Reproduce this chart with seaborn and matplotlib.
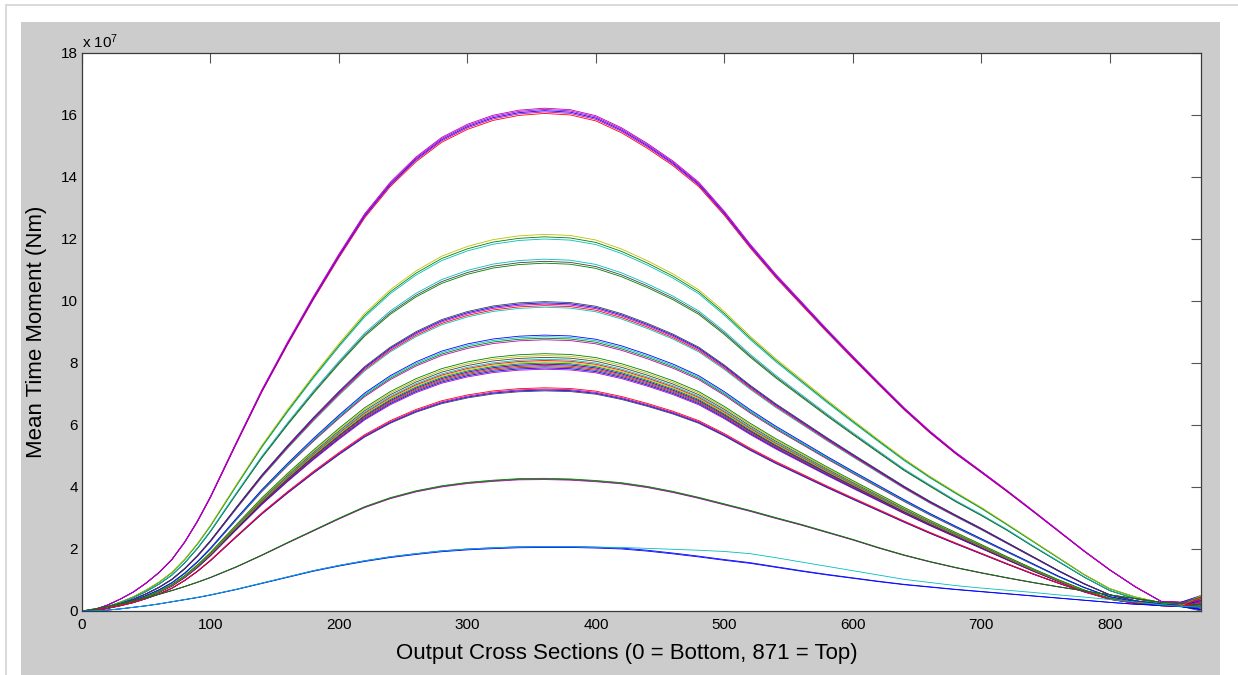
import matplotlib
matplotlib.use("Agg")
import matplotlib.pyplot as plt
import numpy as np
import pandas as pd
import seaborn as sns
from matplotlib.patches import Rectangle
from matplotlib.lines import Line2D

# Cross-section index along the tower (0 = bottom, 871 = top)
section_head = [0, 10, 20, 30, 40, 50, 60, 70, 80, 90, 100, 120, 140, 160, 180, 200, 220,
                240, 260, 280, 300, 320, 340, 360, 380, 400, 420, 440, 460, 480, 500, 520,
                540, 560, 580, 600, 620]
section_tail = [640, 660, 680, 700, 720, 740, 760, 780, 800, 820, 840, 855, 871]

# Common normalised moment shape of the large load-case families (sections 0..620)
shape = [0.0, 0.003, 0.012, 0.024, 0.038, 0.056, 0.077, 0.103, 0.138, 0.18, 0.228, 0.335,
         0.44, 0.535, 0.625, 0.71, 0.79, 0.853, 0.903, 0.942, 0.968, 0.986, 0.996, 1.0,
         0.997, 0.985, 0.961, 0.93, 0.895, 0.853, 0.795, 0.73, 0.67, 0.615, 0.56, 0.507,
         0.455]

# Family peak moments (1e7 Nm)
peak_a, peak_b, peak_c, peak_d, peak_e, peak_f, peak_g = 16.18, 12.1, 11.3, 9.92, 8.85, 8.05, 7.15

# Family moments near the top of the tower, sections 640..855 (1e7 Nm)
tail_a = [6.54, 5.79, 5.11, 4.5, 3.88, 3.24, 2.59, 1.94, 1.33, 0.78, 0.31, 0.28]
tail_b = [4.89, 4.33, 3.82, 3.33, 2.8, 2.26, 1.72, 1.18, 0.72, 0.45, 0.27, 0.2]
tail_c = [4.56, 4.05, 3.55, 3.1, 2.62, 2.1, 1.6, 1.1, 0.66, 0.4, 0.24, 0.18]
tail_d = [4.0, 3.52, 3.08, 2.65, 2.2, 1.75, 1.3, 0.88, 0.52, 0.33, 0.22, 0.18]
tail_e = [3.57, 3.13, 2.72, 2.32, 1.92, 1.52, 1.12, 0.76, 0.46, 0.3, 0.2, 0.16]
tail_f = [3.24, 2.84, 2.46, 2.08, 1.7, 1.33, 0.98, 0.66, 0.4, 0.27, 0.19, 0.15]
tail_g = [2.88, 2.52, 2.18, 1.85, 1.52, 1.2, 0.9, 0.62, 0.38, 0.25, 0.17, 0.14]

# Light load-case families, full profiles (1e7 Nm)
head_h = [0.0, 0.07, 0.15, 0.24, 0.33, 0.43, 0.54, 0.66, 0.79, 0.93, 1.08, 1.42, 1.8, 2.2,
          2.59, 2.98, 3.35, 3.64, 3.86, 4.02, 4.13, 4.2, 4.25, 4.26, 4.24, 4.19, 4.12, 4.0,
          3.84, 3.65, 3.44, 3.23, 3.0, 2.78, 2.54, 2.3, 2.04]
tail_h = [1.8, 1.59, 1.4, 1.23, 1.07, 0.92, 0.78, 0.65, 0.52, 0.4, 0.28, 0.24]
head_i = [0.0, 0.01, 0.03, 0.07, 0.12, 0.17, 0.23, 0.3, 0.37, 0.44, 0.52, 0.7, 0.9, 1.1,
          1.3, 1.47, 1.62, 1.75, 1.85, 1.94, 2.0, 2.04, 2.07, 2.08, 2.08, 2.06, 2.03, 1.96,
          1.87, 1.77, 1.66, 1.56, 1.43, 1.3, 1.18, 1.07, 0.96]
tail_i = [0.86, 0.78, 0.7, 0.63, 0.56, 0.49, 0.42, 0.35, 0.28, 0.22, 0.18, 0.15]
head_j = [0.0, 0.01, 0.03, 0.07, 0.12, 0.17, 0.23, 0.3, 0.37, 0.44, 0.52, 0.7, 0.9, 1.1,
          1.3, 1.47, 1.62, 1.75, 1.85, 1.94, 2.0, 2.04, 2.07, 2.08, 2.08, 2.06, 2.05, 2.02,
          1.99, 1.96, 1.92, 1.85, 1.72, 1.58, 1.44, 1.3, 1.16]
tail_j = [1.02, 0.92, 0.82, 0.74, 0.67, 0.6, 0.52, 0.45, 0.37, 0.29, 0.2, 0.15]

# Peak moment of every individual run in each family (1e7 Nm)
peaks_a = [16.05, 16.10, 16.14, 16.18, 16.22]
peaks_b = [12.00, 12.07, 12.15]
peaks_c = [11.22, 11.28, 11.35]
peaks_d = [9.80, 9.85, 9.90, 9.94, 9.98]
peaks_e = [8.75, 8.80, 8.85, 8.90]
peaks_f = [7.80, 7.84, 7.88, 7.92, 7.96, 8.00, 8.04, 8.08, 8.12, 8.18, 8.24, 8.30]
peaks_g = [7.10, 7.13, 7.16, 7.20]
peaks_h = [4.24, 4.26, 4.28]
peaks_i = [2.05, 2.08]
peaks_j = [2.08]

# Moment at the top section (871) of every run (1e7 Nm)
top_a = [0.45, 0.30, 0.50, 0.20, 0.35]
top_b = [0.10, 0.30, 0.45]
top_c = [0.25, 0.05, 0.40]
top_d = [0.30, 0.15, 0.50, 0.20, 0.35]
top_e = [0.05, 0.40, 0.20, 0.30]
top_f = [0.10, 0.35, 0.20, 0.45, 0.05, 0.30, 0.15, 0.40, 0.25, 0.00, 0.50, 0.20]
top_g = [0.15, 0.05, 0.30, 0.25]
top_h = [0.35, 0.20, 0.45]
top_i = [0.10, 0.05]
top_j = [0.12]

# MATLAB classic colour order
MATLAB = {"b": (0, 0, 1), "g": (0, 0.5, 0), "r": (1, 0, 0), "c": (0, 0.75, 0.75),
          "m": (0.75, 0, 0.75), "y": (0.75, 0.75, 0), "k": (0.25, 0.25, 0.25)}
codes = {
    "a": ["r", "m", "b", "m", "m"],
    "b": ["c", "g", "y"],
    "c": ["g", "k", "c"],
    "d": ["c", "r", "m", "b", "k"],
    "e": ["m", "g", "c", "b"],
    "f": ["m", "b", "k", "r", "b", "g", "y", "r", "c", "k", "y", "g"],
    "g": ["k", "b", "m", "r"],
    "h": ["m", "k", "g"],
    "i": ["b", "b"],
    "j": ["c"],
}

shape_arr = np.asarray(shape)
families = {
    "a": (shape_arr * peak_a, tail_a, peaks_a, top_a),
    "b": (shape_arr * peak_b, tail_b, peaks_b, top_b),
    "c": (shape_arr * peak_c, tail_c, peaks_c, top_c),
    "d": (shape_arr * peak_d, tail_d, peaks_d, top_d),
    "e": (shape_arr * peak_e, tail_e, peaks_e, top_e),
    "f": (shape_arr * peak_f, tail_f, peaks_f, top_f),
    "g": (shape_arr * peak_g, tail_g, peaks_g, top_g),
    "h": (head_h, tail_h, peaks_h, top_h),
    "i": (head_i, tail_i, peaks_i, top_i),
    "j": (head_j, tail_j, peaks_j, top_j),
}

section = section_head + section_tail
rows, palette, order = [], {}, []
for key, (head, tail, peaks, tops) in families.items():
    prof = np.concatenate([np.asarray(head, float), np.asarray(tail, float)])
    for n, (pk, tp) in enumerate(zip(peaks, tops)):
        vals = np.append(prof * pk / prof.max(), tp)
        name = f"{key}{n}"
        order.append(name)
        palette[name] = MATLAB[codes[key][n]]
        rows += [{"section": s, "moment": v, "run": name} for s, v in zip(section, vals)]
df = pd.DataFrame(rows)

sns.set_theme(style="white")
plt.rcParams["font.family"] = ["Liberation Sans", "DejaVu Sans"]
plt.rcParams["mathtext.fontset"] = "custom"
plt.rcParams["mathtext.rm"] = "Liberation Sans"
plt.rcParams["mathtext.it"] = "Liberation Sans"

W, H = 1238, 675
fig = plt.figure(figsize=(W / 100, H / 100), dpi=100, facecolor="white")

# window frame: light border and grey figure panel
fig.add_artist(Line2D([6 / W, 6 / W], [0, 1 - 5 / H], transform=fig.transFigure,
                      color="#d4d4d4", lw=1.2))
fig.add_artist(Line2D([6 / W, 1], [1 - 5 / H, 1 - 5 / H], transform=fig.transFigure,
                      color="#d4d4d4", lw=1.2))
fig.add_artist(Rectangle((21 / W, 0), (1220 - 21) / W, (H - 22) / H,
                         transform=fig.transFigure, facecolor="#cccccc",
                         edgecolor="none", zorder=0))

ax = fig.add_axes([82 / W, (H - 611) / H, (1201 - 82) / W, (611 - 53) / H])
ax.set_facecolor("white")

sns.lineplot(data=df, x="section", y="moment", hue="run", hue_order=order,
             palette=palette, estimator=None, sort=False, legend=False,
             linewidth=0.6, ax=ax)

ax.set_xlim(0, 871)
ax.set_ylim(0, 18)
ax.set_xticks(range(0, 801, 100))
ax.set_yticks(range(0, 19, 2))
for sp in ax.spines.values():
    sp.set_visible(True)
    sp.set_color("#3a3a3a")
    sp.set_linewidth(0.9)
ax.tick_params(direction="in", length=7, width=0.8, color="#555555",
               top=True, right=True, labelsize=11, labelcolor="black")
ax.tick_params(axis="x", pad=5)
ax.tick_params(axis="y", pad=3)
ax.text(0.0, 1.004, r"x 10$^7$", transform=ax.transAxes, ha="left", va="bottom",
        fontsize=11, color="black")

ax.set_xlabel("Output Cross Sections (0 = Bottom, 871 = Top)", fontsize=16,
              color="black", labelpad=8)
ax.xaxis.label.set_x(0.487)
ax.set_ylabel("Mean Time Moment (Nm)", fontsize=16, color="black", labelpad=10)

fig.savefig("out.png", dpi=100, facecolor="white")
